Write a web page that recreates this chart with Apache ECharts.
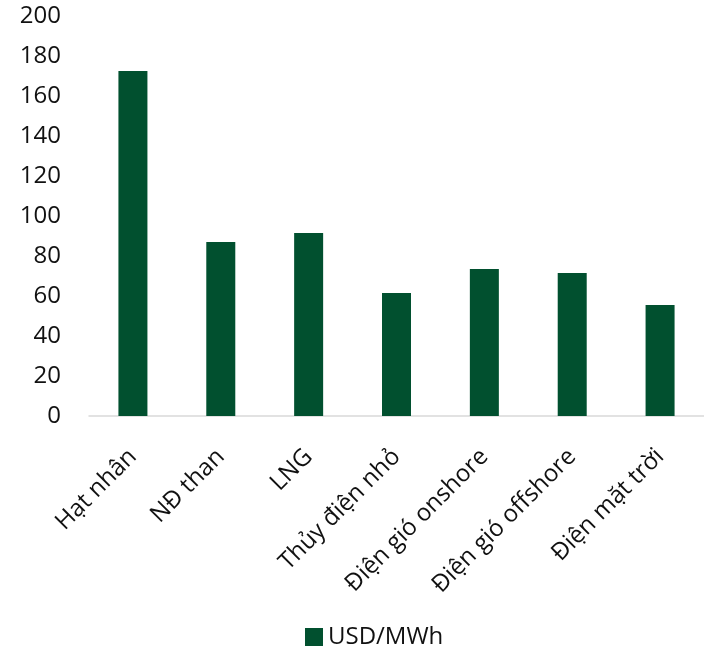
<!DOCTYPE html>
<html><head><meta charset="utf-8">
<script src="https://cdn.jsdelivr.net/npm/echarts@6/dist/echarts.min.js"></script>
<style>html,body{margin:0;padding:0;background:#fff}#c{width:704px;height:650px}</style>
</head><body><div id="c"></div>
<script>
const categories = ["Hạt nhân","NĐ than","LNG","Thủy điện nhỏ","Điện gió onshore","Điện gió offshore","Điện mặt trời"];
const seriesName = "USD/MWh";
const values = [172.5, 87, 91.5, 61.5, 73.5, 71.5, 55.5];
const yMin = 0, yMax = 200, yStep = 20;

const FONT = '"Open Sans", "Noto Sans", sans-serif';
const chart = echarts.init(document.getElementById('c'), null, {renderer:'canvas'});
chart.setOption({
  animation:false,
  textStyle:{fontFamily:FONT},
  grid:{left:89, right:-1, top:16, bottom:234, containLabel:false},
  xAxis:{type:'category', data:categories,
    axisLine:{lineStyle:{color:'#d9d9d9', width:1.5}},
    axisTick:{show:false},
    axisLabel:{rotate:45, interval:0, margin:37, fontSize:24, color:'#111', fontFamily:FONT}},
  yAxis:{type:'value', min:yMin, max:yMax, interval:yStep,
    axisLine:{show:false}, axisTick:{show:false}, splitLine:{show:false},
    axisLabel:{fontSize:24, color:'#111', margin:28, fontFamily:FONT}},
  legend:{bottom:-4, left:300, itemWidth:18, itemHeight:18, icon:'rect', itemGap:10,
    textStyle:{fontSize:24, color:'#111', fontFamily:FONT}, data:[seriesName]},
  series:[{name:seriesName, type:'bar', data:values, barWidth:29,
    itemStyle:{color:'#01502f'}}]
});
</script></body></html>
